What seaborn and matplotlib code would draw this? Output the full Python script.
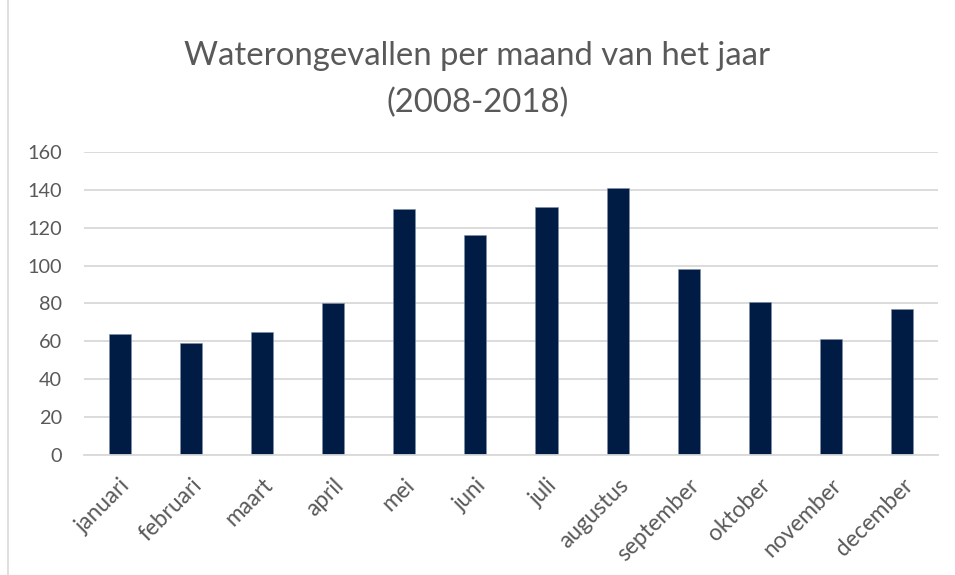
import matplotlib
matplotlib.use("Agg")
import matplotlib.pyplot as plt
import matplotlib.transforms as mtransforms
import seaborn as sns
import pandas as pd
from matplotlib.lines import Line2D

months = ["januari", "februari", "maart", "april", "mei", "juni", "juli",
          "augustus", "september", "oktober", "november", "december"]
values = [64, 59, 65, 80, 130, 116, 131, 141, 98, 81, 61, 77]
yticks = [0, 20, 40, 60, 80, 100, 120, 140, 160]

sns.set_theme(style="white")
plt.rcParams['font.family'] = ['Lato', 'DejaVu Sans']

df = pd.DataFrame({"maand": months, "aantal": values})

fig = plt.figure(figsize=(9.55, 5.75), dpi=100)
ax = fig.add_axes([0.088, 0.2087, 0.894, 0.527])
sns.barplot(data=df, x="maand", y="aantal", color="#001C45", width=0.31,
            saturation=1, ax=ax, edgecolor="#8090a8", linewidth=0.4)

ax.set_ylim(0, 160)
ax.set_yticks(yticks)
ax.set_xlim(-0.5, 11.5)
ax.yaxis.grid(True, color="#d9d9d9", linewidth=1.3)
ax.set_axisbelow(True)
for s in ["top", "right", "left"]:
    ax.spines[s].set_visible(False)
ax.spines["bottom"].set_color("#d9d9d9")
ax.spines["bottom"].set_linewidth(1.3)
ax.set_xlabel("")
ax.set_ylabel("")
ax.tick_params(axis="y", labelsize=14.3, labelcolor="#595959", length=0, pad=16)
ax.tick_params(axis="x", labelsize=16.3, labelcolor="#595959", length=0, pad=14)
offset = mtransforms.ScaledTranslation(0 / 100, 0, fig.dpi_scale_trans)
for lbl in ax.get_xticklabels():
    lbl.set_rotation(45)
    lbl.set_ha("right")
    lbl.set_rotation_mode("anchor")
    lbl.set_transform(lbl.get_transform() + offset)

fig.text(0.5, 0.887, "Waterongevallen per maand van het jaar",
         ha="center", va="baseline", fontsize=23.7, color="#595959")
fig.text(0.5, 0.805, "(2008-2018)",
         ha="center", va="baseline", fontsize=23.7, color="#595959")

fig.add_artist(Line2D([0.008, 0.008], [0.0, 1.0], transform=fig.transFigure,
                      color="#d9d9d9", linewidth=1.2))

fig.savefig("out.png", dpi=100)
